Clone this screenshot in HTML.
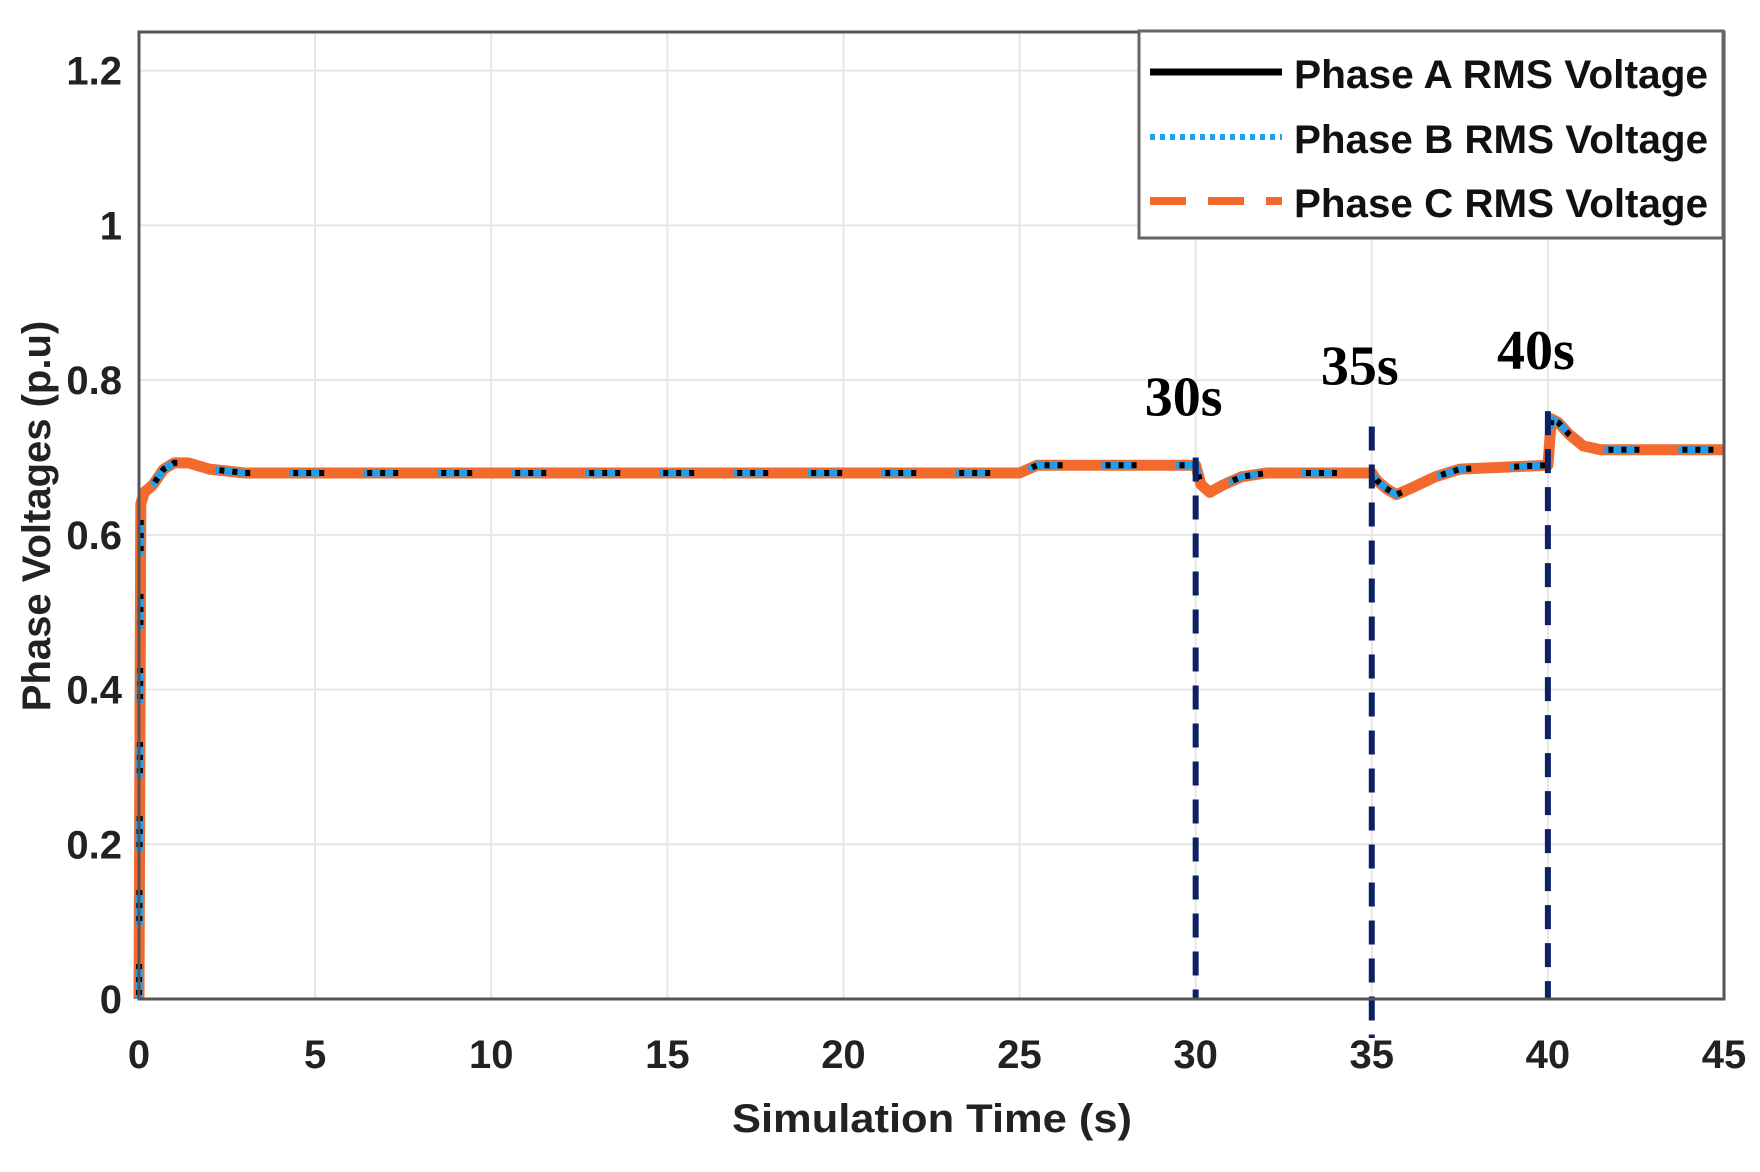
<!DOCTYPE html>
<html><head><meta charset="utf-8"><style>
html,body{margin:0;padding:0;background:#fff;}
</style></head><body>
<svg id="chart" width="1760" height="1167" viewBox="0 0 1760 1167" xmlns="http://www.w3.org/2000/svg" font-family="Liberation Sans, Arial, sans-serif">
<g id="grid"></g>
<g id="series"></g>
<g id="events"></g>
<rect x="139" y="32" width="1585" height="967" fill="none" stroke="#555" stroke-width="3"/>
<g id="ticks"></g>
<text x="932" y="1132" font-size="40" font-weight="bold" text-anchor="middle" fill="#222" textLength="400" lengthAdjust="spacingAndGlyphs">Simulation Time (s)</text>
<text transform="translate(50,516) rotate(-90)" font-size="40" font-weight="bold" text-anchor="middle" fill="#222">Phase Voltages (p.u)</text>
<g>
<rect x="1139" y="31" width="584" height="207" fill="#fff" stroke="#666" stroke-width="3"/>
<line x1="1150" y1="72" x2="1282" y2="72" stroke="#000" stroke-width="7"/>
<text x="1294" y="88" font-size="40" font-weight="bold" fill="#111" textLength="414" lengthAdjust="spacingAndGlyphs">Phase A RMS Voltage</text>
<line x1="1150" y1="137" x2="1282" y2="137" stroke="#1ea0f0" stroke-width="6" stroke-dasharray="5 5"/>
<text x="1294" y="153" font-size="40" font-weight="bold" fill="#111" textLength="414" lengthAdjust="spacingAndGlyphs">Phase B RMS Voltage</text>
<line x1="1150" y1="201" x2="1282" y2="201" stroke="#f26a2e" stroke-width="8" stroke-dasharray="36 22"/>
<text x="1294" y="217" font-size="40" font-weight="bold" fill="#111" textLength="414" lengthAdjust="spacingAndGlyphs">Phase C RMS Voltage</text>
</g>
</svg>
<script>
const xTicks=[0,5,10,15,20,25,30,35,40,45];
const yTicks=[0,0.2,0.4,0.6,0.8,1,1.2];
const yTickLabels=["0","0.2","0.4","0.6","0.8","1","1.2"];
const times=[0,0.05,0.15,0.4,0.7,1.0,1.4,2,3,25,25.5,30,30.15,30.4,30.8,31.3,32,35,35.15,35.4,35.7,36.2,36.8,37.5,40,40.1,40.3,40.6,41,41.5,45];
const voltages=[0,0.64,0.655,0.665,0.685,0.693,0.693,0.685,0.68,0.68,0.69,0.69,0.665,0.655,0.665,0.675,0.68,0.68,0.67,0.66,0.652,0.662,0.675,0.685,0.69,0.75,0.745,0.73,0.715,0.71,0.71];
const eventTimes=[30,35,40];
const eventLabels=["30s","35s","40s"];
const eventTops=[0.7,0.74,0.76];
const NS="http://www.w3.org/2000/svg";
const L=139,R=1724,B=999,T=32,YMAX=1.25;
const sx=t=>L+(R-L)*t/45;
const sy=v=>B-(B-T)*v/YMAX;
function mk(tag,attrs,parent){const e=document.createElementNS(NS,tag);for(const k in attrs)e.setAttribute(k,attrs[k]);parent.appendChild(e);return e;}
const grid=document.getElementById('grid'),ticks=document.getElementById('ticks'),series=document.getElementById('series'),events=document.getElementById('events');
xTicks.forEach(t=>{
 const g=mk('line',{x1:sx(t),x2:sx(t),y1:T,y2:B,stroke:'#e6e6e6','stroke-width':2},grid);
 
 
 const tx=mk('text',{x:sx(t),y:1068,'font-size':40,'font-weight':'bold','text-anchor':'middle',fill:'#222'},ticks);
 tx.textContent=String(t);
 
 
});
yTicks.forEach((v,i)=>{
 const g=mk('line',{x1:L,x2:R,y1:sy(v),y2:sy(v),stroke:'#e6e6e6','stroke-width':2},grid);
 
 
 const tx=mk('text',{x:122,y:sy(v)+14,'font-size':40,'font-weight':'bold','text-anchor':'end',fill:'#222'},ticks);
 tx.textContent=yTickLabels[i];
 
 
});
const pts=times.map((t,i)=>sx(t).toFixed(1)+','+sy(voltages[i]).toFixed(1)).join(' ');
const c=mk('polyline',{points:pts,fill:'none',stroke:'#f26a2e','stroke-width':11,'stroke-linejoin':'round'},series);


const b=mk('polyline',{points:pts,fill:'none',stroke:'#1ea0f0','stroke-width':7,'stroke-dasharray':'32 42'},series);


const a=mk('polyline',{points:pts,fill:'none',stroke:'#000','stroke-width':6,'stroke-dasharray':'0 4 5 8 5 8 5 39'},series);


eventTimes.forEach((t,i)=>{
 const y2=i===1?1038:B;
 const l=mk('line',{x1:sx(t),x2:sx(t),y1:sy(eventTops[i]),y2:y2,stroke:'#0b2163','stroke-width':6,'stroke-dasharray':'24 14'},events);
 
 
 const tx=mk('text',{x:sx(t)-12,y:sy(eventTops[i])-42,'font-size':56,'font-weight':'bold','text-anchor':'middle',fill:'#000','font-family':'Liberation Serif, serif'},events);
 tx.textContent=eventLabels[i];
 
 
});
</script>
</body></html>
